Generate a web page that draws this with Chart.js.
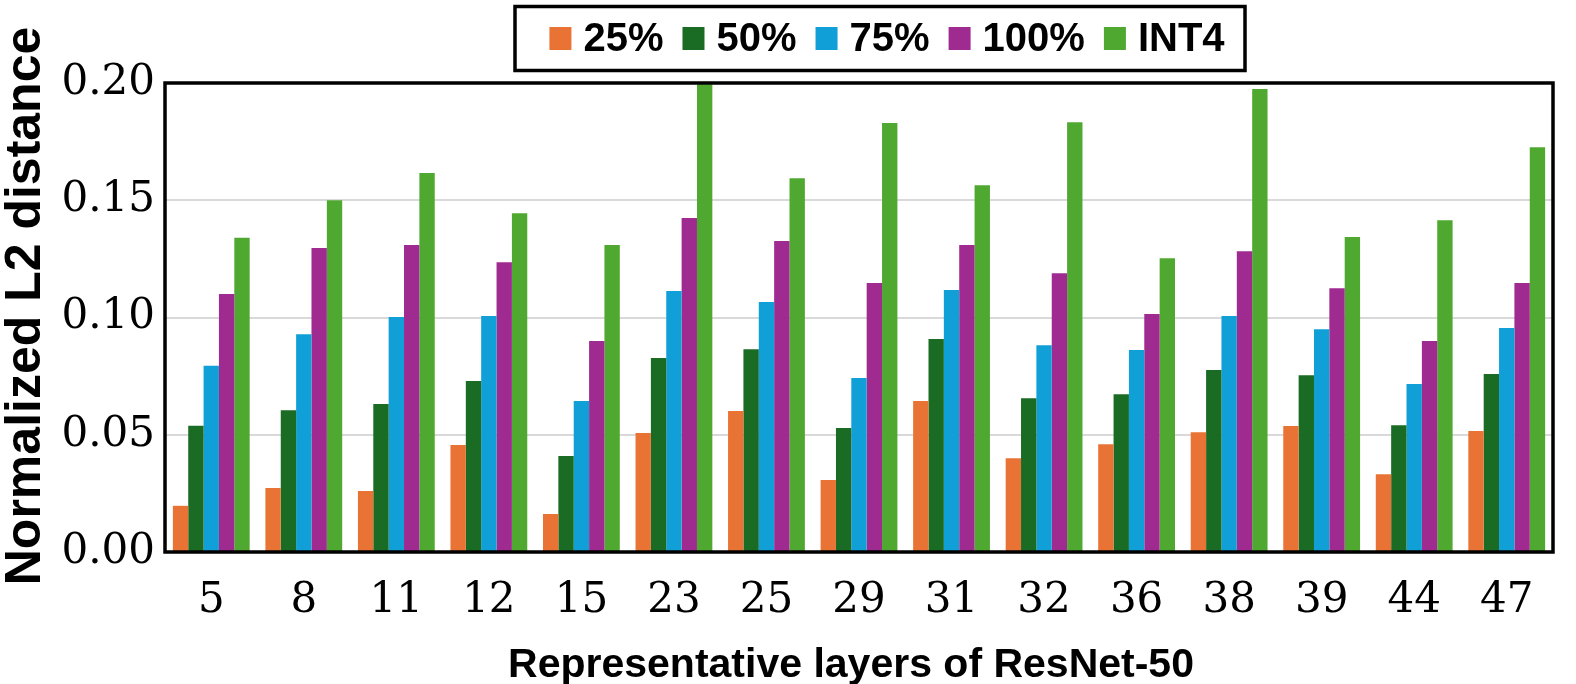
<!DOCTYPE html>
<html>
<head>
<meta charset="utf-8">
<script src="https://cdn.jsdelivr.net/npm/chart.js@4.4.0/dist/chart.umd.min.js"></script>
<style>
  html, body { margin: 0; padding: 0; background: #fff; }
  canvas { display: block; }
</style>
</head>
<body>
<canvas id="l2Chart" width="1576" height="684"></canvas>
<script>
// layers of ResNet-50 shown on the x axis
const layers = ["5", "8", "11", "12", "15", "23", "25", "29", "31", "32", "36", "38", "39", "44", "47"];

// normalized L2 distance per setting
const p25  = [0.0197, 0.0273, 0.0260, 0.0456, 0.0162, 0.0507, 0.0601, 0.0307, 0.0644, 0.0400, 0.0460, 0.0511, 0.0537, 0.0332, 0.0516];
const p50  = [0.0538, 0.0605, 0.0631, 0.0729, 0.0409, 0.0827, 0.0865, 0.0529, 0.0908, 0.0656, 0.0673, 0.0776, 0.0754, 0.0541, 0.0759];
const p75  = [0.0794, 0.0929, 0.1002, 0.1006, 0.0644, 0.1113, 0.1066, 0.0742, 0.1117, 0.0882, 0.0861, 0.1006, 0.0950, 0.0716, 0.0955];
const p100 = [0.1100, 0.1296, 0.1309, 0.1236, 0.0900, 0.1424, 0.1326, 0.1147, 0.1309, 0.1189, 0.1015, 0.1283, 0.1125, 0.0900, 0.1147];
const int4 = [0.1340, 0.1500, 0.1616, 0.1445, 0.1309, 0.1995, 0.1594, 0.1829, 0.1564, 0.1833, 0.1253, 0.1974, 0.1343, 0.1415, 0.1726];

const seriesNames = ["25%", "50%", "75%", "100%", "INT4"];
const yTicks = [0, 0.05, 0.10, 0.15, 0.20];

const colors = ["#E97334", "#1A6B23", "#109FD6", "#9F2B90", "#4FA82F"];
const sans = '"Liberation Sans", Arial, sans-serif';
const serif = '"DejaVu Serif", serif';

// frame, axis titles and boxed legend
const decor = {
    id: "decor",
    afterDraw(chart) {
        const ctx = chart.ctx;
        const a = chart.chartArea;
        ctx.save();

        ctx.strokeStyle = "#000";
        ctx.lineWidth = 3.5;
        ctx.strokeRect(a.left, a.top, a.right - a.left, a.bottom - a.top);

        ctx.fillStyle = "#000";
        ctx.textBaseline = "alphabetic";

        // x title
        ctx.font = "bold 41px " + sans;
        ctx.textAlign = "center";
        ctx.fillText("Representative layers of ResNet-50", 851, 677);

        // y title
        ctx.save();
        ctx.translate(40, 306);
        ctx.rotate(-Math.PI / 2);
        ctx.font = "bold 50px " + sans;
        ctx.fillText("Normalized L2 distance", 0, 0);
        ctx.restore();

        // legend
        ctx.font = "bold 40px " + sans;
        ctx.textAlign = "left";
        const sq = 22, gapText = 12, gapItem = 19;
        const widths = chart.data.datasets.map(d => sq + gapText + ctx.measureText(d.label).width);
        const total = widths.reduce((s, w) => s + w, 0) + gapItem * (widths.length - 1);
        let x = 887 - total / 2;
        chart.data.datasets.forEach((d, i) => {
            ctx.fillStyle = d.backgroundColor;
            ctx.fillRect(x, 27, sq, 23);
            ctx.fillStyle = "#000";
            ctx.fillText(d.label, x + sq + gapText, 51);
            x += widths[i] + gapItem;
        });
        ctx.lineWidth = 3.5;
        ctx.strokeRect(515, 6.5, 730, 64);

        ctx.restore();
    }
};

const ctx = document.getElementById("l2Chart").getContext("2d");
new Chart(ctx, {
    type: "bar",
    data: {
        labels: layers,
        datasets: [p25, p50, p75, p100, int4].map((vals, i) => ({
            label: seriesNames[i],
            data: vals,
            backgroundColor: colors[i],
            borderWidth: 0,
            categoryPercentage: 0.83,
            barPercentage: 1.0
        }))
    },
    options: {
        responsive: false,
        animation: false,
        devicePixelRatio: 1,
        layout: { padding: { top: 83, right: 23, left: 0, bottom: 0 } },
        plugins: {
            legend: { display: false },
            tooltip: { enabled: false }
        },
        scales: {
            x: {
                grid: { display: false },
                border: { display: false },
                ticks: { color: "#000", font: { family: serif, size: 42 }, padding: 16, maxRotation: 0 },
                afterFit(s) { s.height = 132; }
            },
            y: {
                min: 0,
                max: 0.2,
                afterBuildTicks(s) { s.ticks = yTicks.map(v => ({ value: v })); },
                grid: { color: "#d9d9d9", lineWidth: 2, drawTicks: false },
                border: { display: false },
                ticks: {
                    color: "#000",
                    font: { family: serif, size: 42 },
                    padding: 10,
                    callback: v => v.toFixed(2)
                },
                afterFit(s) { s.width = 165; }
            }
        }
    },
    plugins: [decor]
});
</script>
</body>
</html>
